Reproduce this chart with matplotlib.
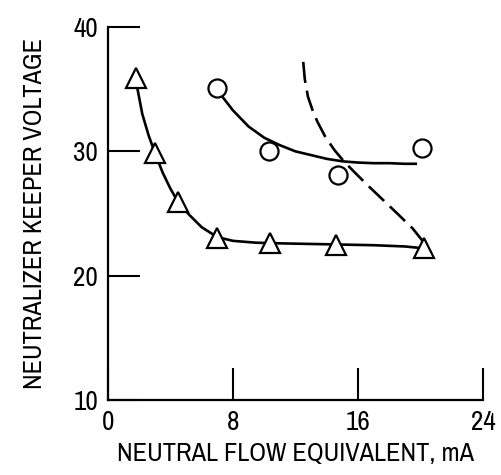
import matplotlib
matplotlib.use("Agg")
import matplotlib.pyplot as plt
from matplotlib import font_manager

# pick the narrowest sans face that is not too narrow, otherwise DejaVu Sans
cands = []
for f in font_manager.fontManager.ttflist:
    st = f.stretch if isinstance(f.stretch, int) else font_manager.stretch_dict.get(f.stretch, 500)
    if f.style == 'normal' and f.weight in (400, 'normal', 'regular') and 200 <= st <= 400 and 'Mono' not in f.name:
        cands.append((st, f.name))
cands.sort()
if cands:
    plt.rcParams['font.family'] = [cands[0][1], 'DejaVu Sans']
    plt.rcParams['font.stretch'] = cands[0][0]
    xl_size, yl_size, tk_size = 19, 18.9, 19.5
else:
    plt.rcParams['font.family'] = ['DejaVu Sans']
    xl_size, yl_size, tk_size = 15.5, 16.5, 16

# measured points
tri_x = [1.8, 3.0, 4.5, 7.0, 10.4, 14.6, 20.2]
tri_y = [35.9, 29.9, 25.9, 23.0, 22.6, 22.5, 22.2]
circ_x = [7.0, 10.3, 14.7, 20.1]
circ_y = [35.1, 30.0, 28.1, 30.3]

# faired curves
tri_curve_x = [1.85, 2.2, 2.6, 3.0, 3.5, 4.0, 4.5, 5.2, 6.0, 7.0, 8.0, 9.5, 11.0, 13.0, 15.0, 17.0, 19.0, 20.2]
tri_curve_y = [35.3, 33.0, 31.3, 29.9, 28.3, 27.0, 25.9, 24.9, 23.9, 23.1, 22.8, 22.65, 22.6, 22.55, 22.5, 22.45, 22.35, 22.2]
circ_curve_x = [7.2, 8.0, 9.0, 10.0, 11.0, 12.0, 13.0, 14.0, 15.0, 16.0, 17.0, 18.0, 19.0, 19.7]
circ_curve_y = [34.6, 33.3, 32.0, 31.1, 30.5, 30.0, 29.7, 29.4, 29.2, 29.1, 29.05, 29.05, 29.0, 29.0]
dash_x = [12.5, 12.6, 12.8, 13.1, 13.4, 13.9, 14.5, 15.1, 15.8, 16.6, 17.6, 18.6, 19.5, 20.2]
dash_y = [37.2, 35.8, 34.4, 33.3, 32.4, 31.2, 30.1, 29.2, 28.3, 27.3, 26.1, 24.9, 23.8, 22.7]

x_ticks = [0, 8, 16, 24]
y_ticks = [10, 20, 30, 40]

fig = plt.figure(figsize=(5.02, 4.75), dpi=100)
ax = fig.add_axes([0.215, 0.158, 0.747, 0.785])

ax.plot(tri_curve_x, tri_curve_y, color='black', lw=1.9)
ax.plot(circ_curve_x, circ_curve_y, color='black', lw=1.9)
ax.plot(dash_x, dash_y, color='black', lw=1.9, dashes=(8, 3))

ax.plot(tri_x, tri_y, '^', ms=14, mfc='white', mec='black', mew=1.6, ls='none')
ax.plot(circ_x, circ_y, 'o', ms=13, mfc='white', mec='black', mew=1.6, ls='none')

ax.set_xlim(0, 24)
ax.set_ylim(10, 40)
ax.set_xticks(x_ticks)
ax.set_yticks(y_ticks)
ax.spines['top'].set_visible(False)
ax.spines['right'].set_visible(False)
for s in ['left', 'bottom']:
    ax.spines[s].set_linewidth(1.6)
ax.tick_params(direction='in', length=23, width=1.5, labelsize=tk_size, pad=7)

ax.set_xlabel('NEUTRAL FLOW EQUIVALENT, mA', fontsize=xl_size, labelpad=5)
ax.set_ylabel('NEUTRALIZER KEEPER VOLTAGE', fontsize=yl_size, labelpad=20)

fig.savefig('out.png', dpi=100)
